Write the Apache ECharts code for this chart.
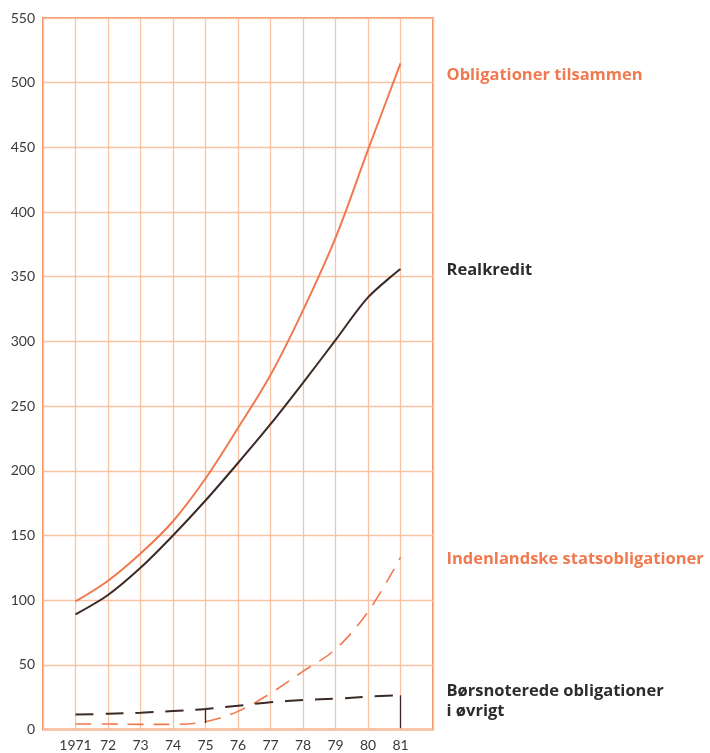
<!DOCTYPE html>
<html>
<head>
<meta charset="utf-8">
<script src="https://cdn.jsdelivr.net/npm/echarts@6/dist/echarts.min.js"></script>
<style>
  html, body { margin: 0; padding: 0; background: #ffffff; }
  #chart { width: 710px; height: 753px; }
</style>
</head>
<body>
<div id="chart"></div>
<script>
// Years 1971–1981, bond stock (billions)
const years = [1971, 1972, 1973, 1974, 1975, 1976, 1977, 1978, 1979, 1980, 1981];
const yearLabels = ['1971', '72', '73', '74', '75', '76', '77', '78', '79', '80', '81'];

const obligationerTilsammen = [99, 115, 136, 161, 194, 233, 274, 324, 380, 448, 515];
const realkredit = [89, 104, 125, 150, 177, 206, 236, 268, 301, 334, 356];
const indenlandskeStats = [4.2, 4.2, 4.0, 4.0, 6.0, 14, 28, 45, 62, 91, 133];
const boersnoterede = [11.5, 12.2, 13, 14.3, 15.8, 18.4, 21, 22.8, 23.8, 25.4, 26.4];

const names = {
  total: 'Obligationer tilsammen',
  real: 'Realkredit',
  stat: 'Indenlandske statsobligationer',
  boers: 'Børsnoterede obligationer\ni øvrigt'
};

const ORANGE = '#f07a50';
const DARK = '#3b2a26';
const LABEL_DARK = '#2c2c2a';
const GRID = '#f8c3a4';
const BORDER = '#f2905e';
const FONT = 'Lato';
const LABEL_FONT = 'Open Sans';

function pairs(vals) { return years.map((y, i) => [y, vals[i]]); }

function endLabel(color, dy) {
  return {
    show: true,
    formatter: '{a}',
    distance: 0,
    offset: [46, dy],
    color: color,
    fontFamily: LABEL_FONT,
    fontWeight: 'bold',
    fontSize: 16.5,
    lineHeight: 20,
    align: 'left'
  };
}

const chart = echarts.init(document.getElementById('chart'), null, { renderer: 'canvas' });
chart.setOption({
  animation: false,
  backgroundColor: '#ffffff',
  grid: {
    left: 43, right: 277, top: 18, bottom: 23.5,
    show: true, borderColor: BORDER, borderWidth: 2, backgroundColor: 'transparent'
  },
  xAxis: {
    type: 'value', min: 1970, max: 1982, interval: 1,
    axisLine: { show: false }, axisTick: { show: false },
    splitLine: { show: true, lineStyle: { color: GRID, width: 1.3 } },
    axisLabel: {
      color: '#3a3a3a', fontFamily: FONT, fontSize: 14, margin: 9,
      formatter: v => { const i = years.indexOf(v); return i >= 0 ? yearLabels[i] : ''; }
    }
  },
  yAxis: {
    type: 'value', min: 0, max: 550, interval: 50,
    axisLine: { show: false }, axisTick: { show: false },
    splitLine: { show: true, lineStyle: { color: GRID, width: 1.3 } },
    axisLabel: { color: '#3a3a3a', fontFamily: FONT, fontSize: 14, margin: 8 }
  },
  series: [
    {
      name: names.total, type: 'line', smooth: 0.35, symbol: 'none',
      data: pairs(obligationerTilsammen),
      lineStyle: { color: ORANGE, width: 2 },
      endLabel: endLabel(ORANGE, 12)
    },
    {
      name: names.real, type: 'line', smooth: 0.3, symbol: 'none',
      data: pairs(realkredit),
      lineStyle: { color: DARK, width: 2 },
      endLabel: endLabel(LABEL_DARK, 1)
    },
    {
      name: names.stat, type: 'line', smooth: 0.35, symbol: 'none',
      data: pairs(indenlandskeStats),
      lineStyle: { color: ORANGE, width: 1.6, type: [16, 10] },
      endLabel: endLabel(ORANGE, 2)
    },
    {
      name: names.boers, type: 'line', smooth: 0.35, symbol: 'none',
      data: pairs(boersnoterede),
      lineStyle: { color: DARK, width: 2, type: [18, 12] },
      endLabel: endLabel(LABEL_DARK, 6),
      markLine: {
        silent: true, symbol: 'none', label: { show: false },
        lineStyle: { color: DARK, width: 1.3, type: 'solid' },
        data: [
          [{ coord: [1975, boersnoterede[4]] }, { coord: [1975, 5] }],
          [{ coord: [1981, boersnoterede[10]] }, { coord: [1981, 1] }]
        ]
      }
    }
  ]
});
</script>
</body>
</html>
